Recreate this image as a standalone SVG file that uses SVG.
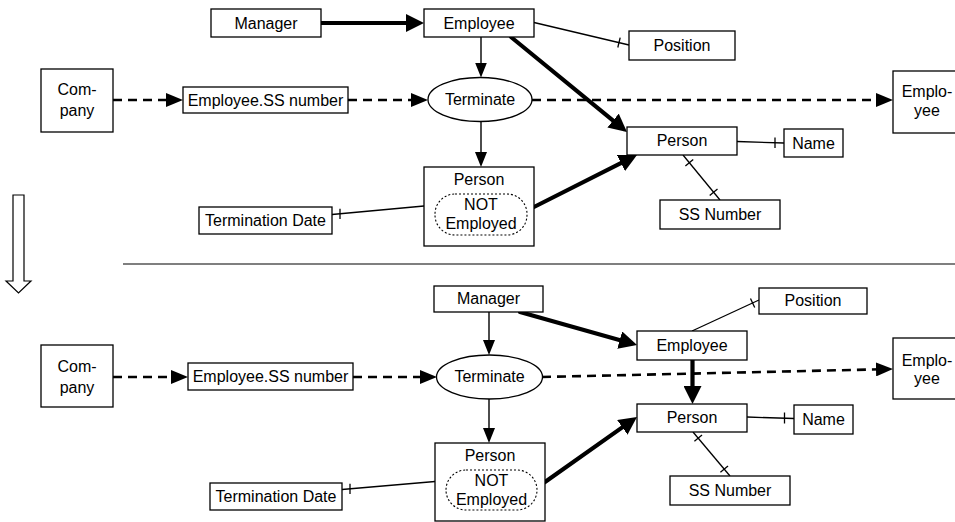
<svg xmlns="http://www.w3.org/2000/svg" width="955" height="522" viewBox="0 0 955 522">
  <style>
    .box { fill: #fff; stroke: #000; stroke-width: 1.3; }
    .dotted { fill: none; stroke: #000; stroke-width: 1.1; stroke-dasharray: 2 2; }
    .t { font-family: "Liberation Sans", Arial, sans-serif; font-size: 16px; text-anchor: middle; fill: #000; }
    .ln { fill: none; stroke: #000; stroke-width: 1.3; }
    .thin { fill: none; stroke: #000; stroke-width: 1.4; marker-end: url(#headThin); }
    .thick { fill: none; stroke: #000; stroke-width: 4.2; stroke-linecap: round; marker-end: url(#headThick); }
    .dash { fill: none; stroke: #000; stroke-width: 2.6; stroke-dasharray: 9 6; marker-end: url(#headDash); }
    .tick { stroke: #000; stroke-width: 1.3; }
  </style>
  <defs>
    <marker id="headThin" viewBox="0 0 15 12" refX="5" refY="6" markerWidth="15" markerHeight="12" markerUnits="userSpaceOnUse" orient="auto">
      <path d="M0,0 L15,6 L0,12 z" fill="#000"/>
    </marker>
    <marker id="headThick" viewBox="0 0 18 18" refX="6" refY="9" markerWidth="18" markerHeight="18" markerUnits="userSpaceOnUse" orient="auto">
      <path d="M0,0 L18,9 L0,18 z" fill="#000"/>
    </marker>
    <marker id="headDash" viewBox="0 0 17 14" refX="5" refY="7" markerWidth="17" markerHeight="14" markerUnits="userSpaceOnUse" orient="auto">
      <path d="M0,0 L17,7 L0,14 z" fill="#000"/>
    </marker>
  </defs>
  <rect width="955" height="522" fill="#fff"/>

  <!-- transition arrow and divider -->
  <polygon points="13,195 24,195 24,281 31,281 18.5,293 6,281 13,281" fill="#fff" stroke="#000" stroke-width="1.2"/>
  <line x1="123" y1="264" x2="955" y2="264" stroke="#555" stroke-width="1.5"/>

  <!-- connectors -->
  <g id="connectors">
    <!-- before -->
    <line class="thick" x1="321" y1="23" x2="412" y2="23"/>
    <line class="thin" x1="481" y1="37" x2="481" y2="67.5"/>
    <line class="thin" x1="481" y1="122" x2="481" y2="157"/>
    <line class="thick" x1="511" y1="37" x2="617.7" y2="124.4"/>
    <line class="thick" x1="534" y1="207" x2="626.3" y2="160.4"/>
    <line class="dash" x1="113" y1="100" x2="171" y2="100"/>
    <line class="dash" x1="348" y1="100" x2="416" y2="100"/>
    <line class="dash" x1="532" y1="100" x2="881" y2="100"/>
    <line class="ln" x1="534" y1="22.5" x2="629" y2="45"/>
    <line class="tick" x1="620.2" y1="37.7" x2="617.8" y2="47.5"/>
    <line class="ln" x1="737" y1="141.5" x2="784" y2="143"/>
    <line class="tick" x1="775" y1="137.5" x2="775" y2="148"/>
    <line class="ln" x1="683" y1="155" x2="720" y2="200"/>
    <line class="tick" x1="693.2" y1="159.5" x2="685.4" y2="165.9"/>
    <line class="tick" x1="717.5" y1="189.1" x2="709.7" y2="195.5"/>
    <line class="ln" x1="332" y1="214.5" x2="424" y2="206"/>
    <line class="tick" x1="340" y1="208.8" x2="340" y2="219"/>

    <!-- after -->
    <line class="thick" x1="520" y1="312" x2="625.5" y2="341.7"/>
    <line class="thin" x1="489" y1="312" x2="489" y2="345"/>
    <line class="thin" x1="489" y1="399" x2="489" y2="433"/>
    <line class="thick" x1="692.5" y1="360" x2="692.5" y2="392"/>
    <line class="thick" x1="545" y1="482" x2="627.2" y2="423.9"/>
    <line class="dash" x1="113" y1="377" x2="176" y2="377"/>
    <line class="dash" x1="353" y1="377" x2="425" y2="377"/>
    <line class="dash" x1="542" y1="377" x2="881" y2="369.3"/>
    <line class="ln" x1="692" y1="331" x2="759" y2="300"/>
    <line class="tick" x1="754.7" y1="307.5" x2="750.5" y2="298.5"/>
    <line class="ln" x1="747" y1="417" x2="794" y2="418.5"/>
    <line class="tick" x1="784.5" y1="412.5" x2="784.5" y2="423.5"/>
    <line class="ln" x1="693" y1="432" x2="730" y2="476"/>
    <line class="tick" x1="702" y1="434.9" x2="694.4" y2="441.3"/>
    <line class="tick" x1="728" y1="465.9" x2="720.4" y2="472.3"/>
    <line class="ln" x1="342" y1="489.5" x2="435" y2="481.5"/>
    <line class="tick" x1="350" y1="483.8" x2="350" y2="494"/>
  </g>

  <!-- before: nodes -->
  <g id="top-manager">
    <rect class="box" x="211" y="9" width="110" height="28"/>
    <text class="t" x="266" y="28.5">Manager</text>
  </g>
  <g id="top-employee">
    <rect class="box" x="424" y="9" width="110" height="28"/>
    <text class="t" x="479" y="28.5">Employee</text>
  </g>
  <g id="top-position">
    <rect class="box" x="629" y="31" width="106" height="29"/>
    <text class="t" x="682" y="50.5">Position</text>
  </g>
  <g id="top-company">
    <rect class="box" x="41" y="69" width="72" height="63"/>
    <text class="t" x="77" y="94.5">Com-</text>
    <text class="t" x="77" y="115.5">pany</text>
  </g>
  <g id="top-ssnumber-key">
    <rect class="box" x="183" y="87" width="165" height="26"/>
    <text class="t" x="265.5" y="105.5">Employee.SS number</text>
  </g>
  <g id="top-terminate">
    <ellipse class="box" cx="480" cy="99.5" rx="52" ry="22"/>
    <text class="t" x="480" y="105">Terminate</text>
  </g>
  <g id="top-employee-out">
    <rect class="box" x="893" y="71" width="70" height="62"/>
    <text class="t" x="927" y="96.5">Emplo-</text>
    <text class="t" x="927" y="115.5">yee</text>
  </g>
  <g id="top-person">
    <rect class="box" x="627" y="127" width="110" height="28"/>
    <text class="t" x="682" y="146">Person</text>
  </g>
  <g id="top-name">
    <rect class="box" x="784" y="129" width="59" height="28"/>
    <text class="t" x="813.5" y="148.5">Name</text>
  </g>
  <g id="top-ss-number">
    <rect class="box" x="660" y="200" width="120" height="29"/>
    <text class="t" x="720" y="220">SS Number</text>
  </g>
  <g id="top-person-not-employed">
    <rect class="box" x="424" y="167" width="110" height="79"/>
    <text class="t" x="479" y="184.5">Person</text>
    <rect class="dotted" x="435" y="194" width="92" height="41" rx="20" ry="20"/>
    <text class="t" x="481" y="209.5">NOT</text>
    <text class="t" x="481" y="229">Employed</text>
  </g>
  <g id="top-termination-date">
    <rect class="box" x="199" y="207" width="133" height="27"/>
    <text class="t" x="265.5" y="226">Termination Date</text>
  </g>

  <!-- after: nodes -->
  <g id="bottom-manager">
    <rect class="box" x="434" y="286" width="109" height="26"/>
    <text class="t" x="488.5" y="304">Manager</text>
  </g>
  <g id="bottom-position">
    <rect class="box" x="759" y="288" width="108" height="26"/>
    <text class="t" x="813" y="306">Position</text>
  </g>
  <g id="bottom-employee">
    <rect class="box" x="637" y="331" width="110" height="29"/>
    <text class="t" x="692" y="350.5">Employee</text>
  </g>
  <g id="bottom-company">
    <rect class="box" x="41" y="345" width="72" height="62"/>
    <text class="t" x="77" y="371.5">Com-</text>
    <text class="t" x="77" y="393">pany</text>
  </g>
  <g id="bottom-ssnumber-key">
    <rect class="box" x="188" y="363" width="165" height="27"/>
    <text class="t" x="270.5" y="382">Employee.SS number</text>
  </g>
  <g id="bottom-terminate">
    <ellipse class="box" cx="489.5" cy="377" rx="53" ry="22"/>
    <text class="t" x="489.5" y="382">Terminate</text>
  </g>
  <g id="bottom-employee-out">
    <rect class="box" x="893" y="338" width="70" height="61"/>
    <text class="t" x="927" y="365.5">Emplo-</text>
    <text class="t" x="927" y="384">yee</text>
  </g>
  <g id="bottom-person">
    <rect class="box" x="637" y="404" width="110" height="28"/>
    <text class="t" x="692" y="423">Person</text>
  </g>
  <g id="bottom-name">
    <rect class="box" x="794" y="405" width="59" height="29"/>
    <text class="t" x="823.5" y="424.5">Name</text>
  </g>
  <g id="bottom-ss-number">
    <rect class="box" x="670" y="476" width="120" height="29"/>
    <text class="t" x="730" y="496">SS Number</text>
  </g>
  <g id="bottom-person-not-employed">
    <rect class="box" x="435" y="443" width="110" height="78"/>
    <text class="t" x="490" y="460.5">Person</text>
    <rect class="dotted" x="446" y="470" width="91" height="40" rx="20" ry="20"/>
    <text class="t" x="491.5" y="486">NOT</text>
    <text class="t" x="491.5" y="505">Employed</text>
  </g>
  <g id="bottom-termination-date">
    <rect class="box" x="210" y="483" width="132" height="27"/>
    <text class="t" x="276" y="502">Termination Date</text>
  </g>
</svg>
